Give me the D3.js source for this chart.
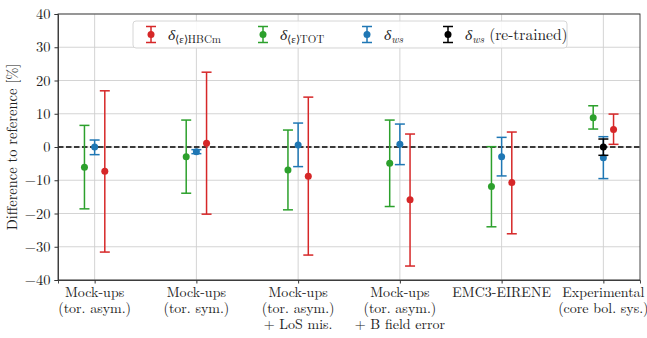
<!DOCTYPE html>
<html>
<head>
<meta charset="utf-8">
<script src="https://cdn.jsdelivr.net/npm/d3@7"></script>
<style>
  body { margin: 0; background: #fff; }
</style>
</head>
<body>
<div id="chart"></div>
<script>
// Categories (each is a list of label lines)
var categories = [
  ["Mock-ups", "(tor. asym.)"],
  ["Mock-ups", "(tor. sym.)"],
  ["Mock-ups", "(tor. asym.)", "+ LoS mis."],
  ["Mock-ups", "(tor. asym.)", "+ B field error"],
  ["EMC3-EIRENE"],
  ["Experimental", "(core bol. sys.)"]
];

// Values: [center, upper end, lower end] per category
var hbcmValues = [[-7.3, 16.9, -31.6], [1.1, 22.5, -20.2], [-8.8, 15.0, -32.5], [-15.9, 3.9, -35.8], [-10.7, 4.5, -26.1], [5.3, 9.9, 0.8]];
var totValues  = [[-6.1, 6.5, -18.6], [-2.9, 8.1, -13.9], [-6.9, 5.1, -18.9], [-4.9, 8.1, -17.9], [-11.9, 0.1, -24.0], [8.8, 12.4, 5.4]];
var wsValues   = [[0.0, 2.1, -2.3], [-1.4, -0.8, -2.0], [0.6, 7.2, -5.9], [0.8, 6.9, -5.3], [-2.9, 2.9, -8.7], [-3.2, 3.1, -9.5]];
var wsRetrainedValues = [[0.0, 2.4, -2.5]]; // only for the experimental case
var yTicks = [-40, -30, -20, -10, 0, 10, 20, 30, 40];

var series = [
  { name: "tot", color: "#2ca02c", offset: -0.1, data: totValues.map((d, i) => ({ i: i, v: d })) },
  { name: "ws", color: "#1f77b4", offset: 0, data: wsValues.map((d, i) => ({ i: i, v: d })) },
  { name: "hbcm", color: "#d62728", offset: 0.1, data: hbcmValues.map((d, i) => ({ i: i, v: d })) },
  { name: "wsre", color: "#000000", offset: 0, data: wsRetrainedValues.map(d => ({ i: 5, v: d })) }
];

var font = '"Latin Modern Roman", "Liberation Serif", serif';
var fontSize = 14;
var svgWidth = 647;
var svgHeight = 338;
var margin = { top: 14, right: 7, bottom: 58, left: 58 };
var chartWidth = svgWidth - margin.left - margin.right;
var chartHeight = svgHeight - margin.top - margin.bottom;

var svg = d3.select("#chart").append("svg")
  .attr("width", svgWidth)
  .attr("height", svgHeight);

var g = svg.append("g")
  .attr("transform", `translate(${margin.left}, ${margin.top})`);

var x = d3.scaleLinear().domain([-0.36, 5.36]).range([0, chartWidth]);
var y = d3.scaleLinear().domain([-40, 40]).range([chartHeight, 0]);

// grid
g.append("g").selectAll("line").data(yTicks).join("line")
  .attr("x1", 0).attr("x2", chartWidth)
  .attr("y1", d => y(d)).attr("y2", d => y(d))
  .attr("stroke", "#cfcfcf").attr("stroke-width", 0.9);
g.append("g").selectAll("line").data(categories).join("line")
  .attr("x1", (d, i) => x(i)).attr("x2", (d, i) => x(i))
  .attr("y1", 0).attr("y2", chartHeight)
  .attr("stroke", "#cfcfcf").attr("stroke-width", 0.9);

// zero line
g.append("line")
  .attr("x1", 0).attr("x2", chartWidth)
  .attr("y1", y(0)).attr("y2", y(0))
  .attr("stroke", "#000").attr("stroke-width", 1.5)
  .attr("stroke-dasharray", "5.5,2.5");

// axes
var leftAxis = d3.axisLeft(y).tickValues(yTicks).tickSize(3.5).tickPadding(4)
  .tickFormat(d => d < 0 ? "\u2212" + Math.abs(d) : d);
g.append("g").attr("class", "yaxis").call(leftAxis);

var bottomAxis = d3.axisBottom(x).tickValues(d3.range(categories.length)).tickSize(3.5).tickFormat("");
g.append("g").attr("transform", `translate(0, ${chartHeight})`).call(bottomAxis);

g.selectAll(".domain").attr("stroke", "#333").attr("stroke-width", 0.9);
g.selectAll(".tick line").attr("stroke", "#333");
g.selectAll(".yaxis text").attr("font-size", fontSize + 0.5).attr("fill", "#222")
  .style("font-family", font);

// frame
g.append("rect").attr("width", chartWidth).attr("height", chartHeight)
  .attr("fill", "none").attr("stroke", "#333").attr("stroke-width", 0.9);

// category labels, one text per line
var labelLines = [];
categories.forEach((lines, i) => lines.forEach((t, j) => labelLines.push({ i: i, j: j, t: t })));
g.append("g").selectAll("text").data(labelLines).join("text")
  .attr("text-anchor", "middle")
  .attr("font-size", fontSize)
  .attr("fill", "#222")
  .style("font-family", font)
  .attr("x", d => x(d.i))
  .attr("y", d => chartHeight + 17 + d.j * 16)
  .text(d => d.t);

// y label
svg.append("text")
  .attr("transform", `translate(17, ${margin.top + chartHeight / 2}) rotate(-90)`)
  .attr("text-anchor", "middle")
  .attr("font-size", fontSize + 0.5)
  .attr("fill", "#222")
  .style("font-family", font)
  .text("Difference to reference [%]");

// error bars
var cap = 5;
series.forEach(s => {
  var sg = g.append("g");
  var pts = sg.selectAll("g").data(s.data).join("g");
  var cx = d => x(d.i + s.offset);
  pts.append("line")
    .attr("x1", cx).attr("x2", cx)
    .attr("y1", d => y(d.v[1])).attr("y2", d => y(d.v[2]))
    .attr("stroke", s.color).attr("stroke-width", 1.5);
  [1, 2].forEach(k => {
    pts.append("line")
      .attr("x1", d => cx(d) - cap).attr("x2", d => cx(d) + cap)
      .attr("y1", d => y(d.v[k])).attr("y2", d => y(d.v[k]))
      .attr("stroke", s.color).attr("stroke-width", 1.5);
  });
  pts.append("circle")
    .attr("cx", cx).attr("cy", d => y(d.v[0]))
    .attr("r", 3.5).attr("fill", s.color);
});

// legend
var legend = svg.append("g").attr("transform", "translate(133, 21)");
legend.append("rect")
  .attr("width", 434).attr("height", 27).attr("rx", 3)
  .attr("fill", "#fff").attr("fill-opacity", 0.85)
  .attr("stroke", "#d6d6d6");

var legendItems = [
  { color: "#d62728", x: 18, sub: "\u27E8\u03B5\u27E9HBCm", subItalic: false, extra: "" },
  { color: "#2ca02c", x: 130, sub: "\u27E8\u03B5\u27E9TOT", subItalic: false, extra: "" },
  { color: "#1f77b4", x: 234, sub: "ws", subItalic: true, extra: "" },
  { color: "#000000", x: 315, sub: "ws", subItalic: true, extra: " (re-trained)" }
];
var li = legend.selectAll("g.item").data(legendItems).join("g")
  .attr("class", "item")
  .attr("transform", d => `translate(${d.x}, 13.5)`);
li.append("line").attr("x1", 0).attr("x2", 0).attr("y1", -8).attr("y2", 8)
  .attr("stroke", d => d.color).attr("stroke-width", 1.5);
li.append("line").attr("x1", -5).attr("x2", 5).attr("y1", -8).attr("y2", -8)
  .attr("stroke", d => d.color).attr("stroke-width", 1.5);
li.append("line").attr("x1", -5).attr("x2", 5).attr("y1", 8).attr("y2", 8)
  .attr("stroke", d => d.color).attr("stroke-width", 1.5);
li.append("circle").attr("r", 3.5).attr("fill", d => d.color);

var lt = li.append("text").attr("x", 17).attr("y", 5)
  .attr("font-size", 15.5).attr("fill", "#222")
  .style("font-family", font);
lt.append("tspan").attr("font-style", "italic").text("\u03B4");
lt.append("tspan").attr("dy", 3).attr("font-size", 11)
  .attr("font-style", d => d.subItalic ? "italic" : "normal")
  .text(d => d.sub);
lt.append("tspan").attr("dy", -3).text(d => d.extra);
</script>
</body>
</html>
